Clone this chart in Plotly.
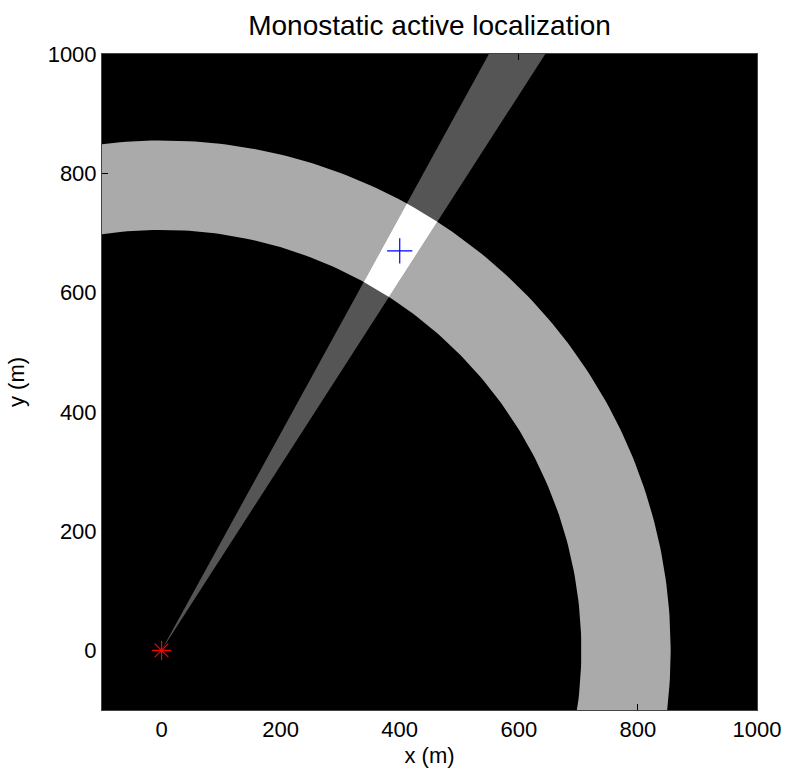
import numpy as np
import plotly.graph_objects as go

# Geometry / data
sensor_x = [0]
sensor_y = [0]
target_x = [400]
target_y = [670]
ring_radii = [705, 855]          # inner, outer range ring (m)
beam_center_deg = 59.2           # bearing of beam (deg from x-axis)
beam_half_width_deg = 2.0
beam_length = 1600
x_range = [-100, 1000]
y_range = [-100, 1000]
tick_vals = [0, 200, 400, 600, 800, 1000]

def arc(r, a0, a1, n=200):
    a = np.radians(np.linspace(a0, a1, n))
    return r * np.cos(a), r * np.sin(a)

# Range ring (annulus section covering visible area)
ox, oy = arc(ring_radii[1], -20, 120)
ix, iy = arc(ring_radii[0], 120, -20)
ring_x = np.concatenate([ox, ix, ox[:1]])
ring_y = np.concatenate([oy, iy, oy[:1]])

# Beam wedge
a_lo = beam_center_deg - beam_half_width_deg
a_hi = beam_center_deg + beam_half_width_deg
wx, wy = arc(beam_length, a_lo, a_hi, 20)
wedge_x = np.concatenate([[0], wx, [0]])
wedge_y = np.concatenate([[0], wy, [0]])

# Intersection cell
sox, soy = arc(ring_radii[1], a_lo, a_hi, 40)
six, siy = arc(ring_radii[0], a_hi, a_lo, 40)
cell_x = np.concatenate([sox, six, sox[:1]])
cell_y = np.concatenate([soy, siy, soy[:1]])

fig = go.Figure()
fig.add_trace(go.Scatter(x=ring_x, y=ring_y, mode="lines", fill="toself",
                         fillcolor="#aaaaaa", line=dict(width=0, color="#aaaaaa"),
                         hoverinfo="skip", showlegend=False))
fig.add_trace(go.Scatter(x=wedge_x, y=wedge_y, mode="lines", fill="toself",
                         fillcolor="#555555", line=dict(width=0, color="#555555"),
                         hoverinfo="skip", showlegend=False))
fig.add_trace(go.Scatter(x=cell_x, y=cell_y, mode="lines", fill="toself",
                         fillcolor="#ffffff", line=dict(width=0, color="#ffffff"),
                         hoverinfo="skip", showlegend=False))
fig.add_trace(go.Scatter(x=sensor_x, y=sensor_y, mode="markers",
                         marker=dict(symbol="asterisk-open", size=16, color="red",
                                     line=dict(color="red", width=1.2)),
                         showlegend=False))
fig.add_trace(go.Scatter(x=target_x, y=target_y, mode="markers",
                         marker=dict(symbol="cross-thin-open", size=18, color="blue",
                                     line=dict(color="blue", width=1.2)),
                         showlegend=False))

axis_common = dict(
    tickvals=tick_vals, ticks="inside", ticklen=6, tickcolor="black",
    showgrid=False, zeroline=False, showline=True, linecolor="#444444",
    linewidth=1, mirror="ticks", tickfont=dict(size=22, color="black"),
    automargin=False,
)
fig.update_xaxes(range=x_range, title=dict(text="x (m)", font=dict(size=22), standoff=6),
                 **axis_common)
fig.update_yaxes(range=y_range, title=dict(text="y (m)", font=dict(size=22), standoff=16),
                 **axis_common)

fig.update_layout(
    width=786, height=768,
    margin=dict(l=102, r=29, t=54, b=58, autoexpand=False),
    plot_bgcolor="black", paper_bgcolor="white",
    font=dict(family="Liberation Sans, Arial, sans-serif", color="black"),
    title=dict(text="Monostatic active localization", x=0.5, xref="paper",
               xanchor="center", y=1 - 25 / 768, yanchor="middle",
               font=dict(size=28)),
)

fig.write_html("out.html")
